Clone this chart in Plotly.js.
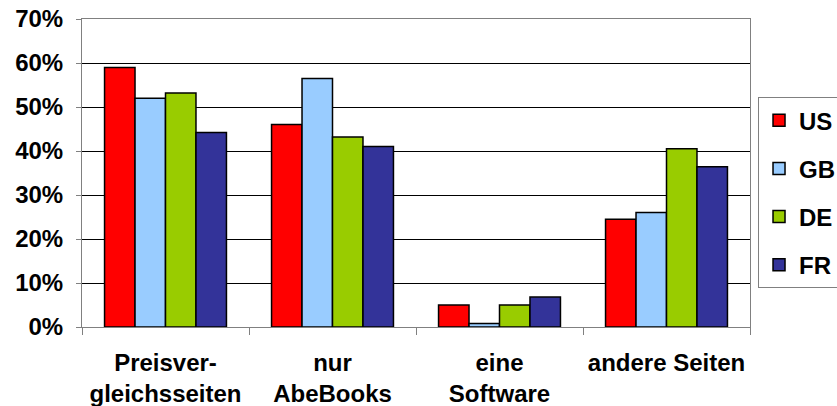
<!DOCTYPE html>
<html>
<head>
<meta charset="utf-8">
<script src="https://cdn.plot.ly/plotly-3.0.1.min.js"></script>
<style>
  html, body { margin: 0; padding: 0; background: #ffffff; }
  #chart { width: 837px; height: 406px; }
</style>
</head>
<body>
<div id="chart"></div>
<script>
// Wo wird nach Büchern gesucht? Anteile je Land
const categories = ['Preisver-<br>gleichsseiten', 'nur<br>AbeBooks', 'eine<br>Software', 'andere Seiten'];
const countries = ['US', 'GB', 'DE', 'FR'];
const usValues = [0.59, 0.46, 0.05, 0.245];
const gbValues = [0.52, 0.565, 0.008, 0.26];
const deValues = [0.532, 0.432, 0.05, 0.405];
const frValues = [0.442, 0.41, 0.068, 0.364];
const barColors = ['#FF0000', '#99CCFF', '#99CC00', '#333399'];
const yTicks = [0, 0.1, 0.2, 0.3, 0.4, 0.5, 0.6, 0.7];

const seriesValues = [usValues, gbValues, deValues, frValues];
const fontFamily = '"Liberation Sans", Arial, sans-serif';

const traces = countries.map((name, i) => ({
  type: 'bar',
  name: name,
  x: categories,
  y: seriesValues[i],
  legendgroup: name,
  marker: { color: barColors[i], line: { color: '#000000', width: 1.5 } },
  hoverinfo: 'skip'
}));

const layout = {
  width: 837,
  height: 406,
  margin: { l: 82, r: 87, t: 19, b: 79, autoexpand: false },
  paper_bgcolor: '#ffffff',
  plot_bgcolor: '#ffffff',
  barmode: 'group',
  bargap: 0.27,
  bargroupgap: 0,
  font: { family: fontFamily, size: 24, color: '#000000', weight: 'bold' },
  xaxis: {
    type: 'category',
    tickson: 'boundaries',
    ticks: 'outside',
    ticklen: 7,
    tickcolor: '#808080',
    tickangle: 0,
    automargin: false,
    showline: true,
    linecolor: '#808080',
    linewidth: 1,
    mirror: true,
    showgrid: false,
    tickfont: { family: fontFamily, size: 24, color: '#000000', weight: 'bold' },
    ticklabelstandoff: 14
  },
  yaxis: {
    range: [0, 0.7],
    tickvals: yTicks,
    tickformat: '.0%',
    ticks: 'outside',
    ticklen: 5,
    tickcolor: '#808080',
    automargin: false,
    showline: true,
    linecolor: '#808080',
    linewidth: 1,
    mirror: true,
    showgrid: true,
    gridcolor: '#000000',
    gridwidth: 1,
    zeroline: false,
    tickfont: { family: fontFamily, size: 24, color: '#000000', weight: 'bold' },
    ticklabelstandoff: 8
  },
  showlegend: true,
  legend: {
    x: 1.012,
    xanchor: 'left',
    y: 0.7465,
    yanchor: 'top',
    traceorder: 'grouped',
    tracegroupgap: 14,
    bordercolor: '#808080',
    borderwidth: 1,
    bgcolor: '#ffffff',
    font: { family: fontFamily, size: 24, color: '#000000', weight: 'bold' }
  }
};

Plotly.newPlot('chart', traces, layout, { staticPlot: true, displayModeBar: false });
</script>
</body>
</html>
